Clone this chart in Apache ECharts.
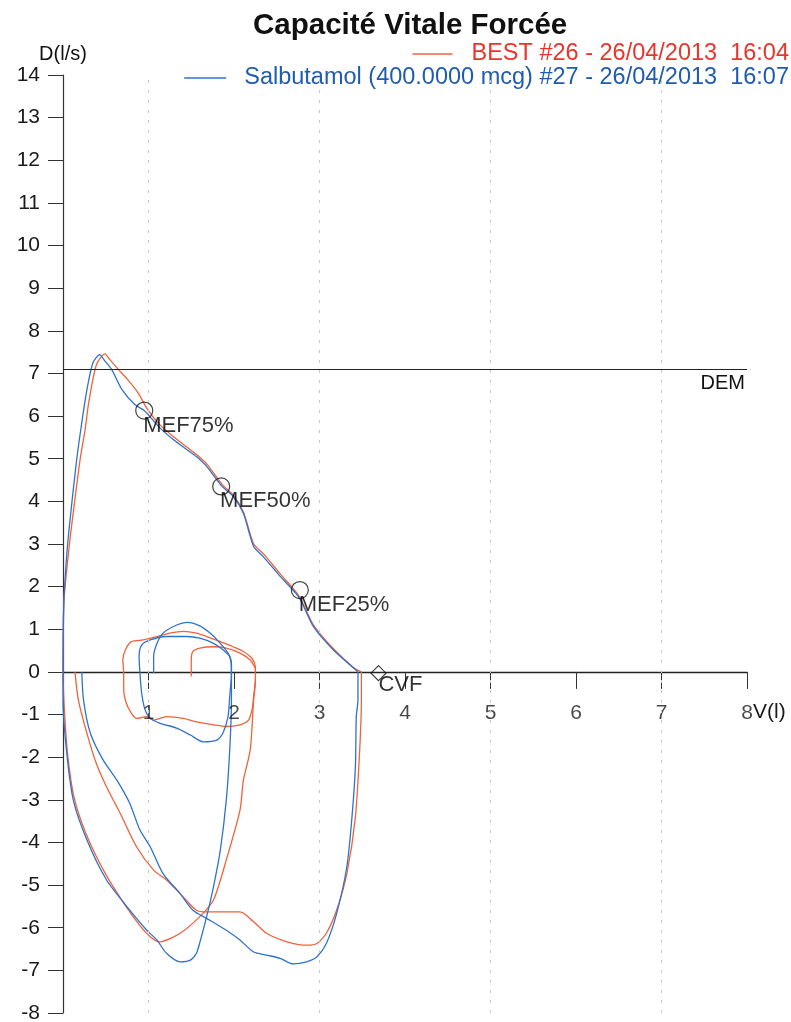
<!DOCTYPE html>
<html>
<head>
<meta charset="utf-8">
<script src="https://cdn.jsdelivr.net/npm/echarts@6/dist/echarts.min.js"></script>
<style>
html,body{margin:0;padding:0;background:#fff;}
#chart{width:791px;height:1022px;}
</style>
</head>
<body>
<div id="chart"></div>
<script>
// ---- labels ----
const titleText = 'Capacité Vitale Forcée';
const redName = 'BEST #26 - 26/04/2013  16:04';
const blueName = 'Salbutamol (400.0000 mcg) #27 - 26/04/2013  16:07';
const xName = 'V(l)';
const yName = 'D(l/s)';
const xTickValues = [1,2,3,4,5,6,7,8];

// ---- BLUE (Salbutamol) curve segments [volume, flow] ----
const blueTidalInner = [[1.06,-0.03],[1.06,0.36],[1.10,0.67],[1.17,0.91],[1.33,1.10],[1.45,1.16],[1.60,1.08],[1.72,0.91],[1.84,0.67],[1.93,0.44],[1.97,0.20],[1.97,-0.11]];
const blueTidalOuter = [[1.97,-0.11],[1.95,-0.58],[1.93,-1.05],[1.87,-1.44],[1.80,-1.60],[1.64,-1.64],[1.49,-1.48],[1.33,-1.32],[1.13,-1.20],[1.02,-1.09],[0.96,-0.89],[0.92,-0.50],[0.90,-0.03],[0.89,0.36],[0.92,0.63],[1.02,0.75],[1.21,0.83],[1.45,0.83],[1.60,0.79],[1.76,0.67],[1.87,0.52],[1.95,0.36],[1.97,0.10]];
const blueInspA = [[1.97,0.10],[1.97,-0.66],[1.95,-1.83],[1.91,-3.0],[1.84,-4.18],[1.76,-5.04],[1.68,-5.74],[1.60,-6.35],[1.56,-6.60],[1.49,-6.76],[1.37,-6.80],[1.21,-6.60],[1.10,-6.29],[0.98,-6.06],[0.75,-5.51],[0.51,-4.88],[0.28,-3.94],[0.12,-3.0],[0.04,-1.83],[0.0,-0.66],[0.0,0.0]];
const blueExp = [[0.0,0.0],[0.01,1.62],[0.05,2.9],[0.10,3.9],[0.16,4.98],[0.22,5.85],[0.28,6.62],[0.35,7.25],[0.43,7.44],[0.48,7.32],[0.57,7.09],[0.69,6.62],[0.84,6.27],[0.95,6.13],[1.13,5.73],[1.29,5.45],[1.45,5.21],[1.56,5.05],[1.68,4.82],[1.86,4.35],[1.99,4.12],[2.11,3.72],[2.23,2.94],[2.34,2.71],[2.54,2.24],[2.76,1.75],[2.93,1.06],[3.16,0.52],[3.40,0.09],[3.45,0.0]];
const blueInspB = [[3.45,0.0],[3.45,-0.66],[3.43,-1.05],[3.42,-2.22],[3.38,-3.40],[3.32,-4.57],[3.20,-5.67],[3.08,-6.37],[2.97,-6.68],[2.85,-6.80],[2.69,-6.85],[2.54,-6.72],[2.38,-6.64],[2.23,-6.57],[2.07,-6.29],[1.91,-6.06],[1.68,-5.78],[1.52,-5.59],[1.37,-5.20],[1.17,-4.73],[1.02,-4.10],[0.90,-3.71],[0.78,-3.08],[0.63,-2.54],[0.47,-2.07],[0.32,-1.44],[0.24,-0.66],[0.22,0.0]];

// ---- RED (BEST) curve segments [volume, flow] ----
const redTidalInner = [[1.50,-0.11],[1.50,0.28],[1.52,0.48],[1.60,0.56],[1.76,0.59],[1.91,0.56],[2.07,0.44],[2.19,0.28],[2.25,0.08]];
const redTidalOuter = [[2.25,0.08],[2.25,-0.11],[2.23,-0.58],[2.21,-0.89],[2.17,-1.13],[2.07,-1.24],[1.91,-1.28],[1.76,-1.24],[1.56,-1.17],[1.41,-1.09],[1.21,-1.05],[1.06,-1.13],[0.98,-1.05],[0.86,-1.09],[0.80,-0.97],[0.74,-0.73],[0.71,-0.42],[0.71,-0.03],[0.70,0.28],[0.73,0.52],[0.80,0.71],[0.94,0.75],[1.10,0.83],[1.25,0.91],[1.41,0.95],[1.56,0.91],[1.68,0.83],[1.84,0.71],[1.99,0.59],[2.11,0.48],[2.21,0.32],[2.25,0.12],[2.25,-0.30]];
const redInspA = [[2.25,-0.30],[2.23,-0.66],[2.19,-1.83],[2.11,-2.54],[2.07,-3.24],[1.91,-4.41],[1.76,-5.35],[1.60,-5.74],[1.37,-6.13],[1.13,-6.33],[1.02,-6.21],[0.90,-5.95],[0.72,-5.45],[0.50,-4.75],[0.28,-3.85],[0.13,-2.95],[0.05,-1.85],[0.01,-0.66],[0.0,0.0]];
const redExp = [[0.0,0.0],[0.01,1.62],[0.07,2.9],[0.13,3.9],[0.20,4.98],[0.26,5.7],[0.30,6.31],[0.39,7.2],[0.49,7.46],[0.55,7.32],[0.65,7.09],[0.76,6.85],[0.88,6.54],[0.99,6.15],[1.13,5.80],[1.29,5.52],[1.45,5.27],[1.56,5.10],[1.68,4.88],[1.86,4.40],[1.99,4.15],[2.11,3.75],[2.23,3.0],[2.34,2.78],[2.54,2.30],[2.76,1.78],[2.93,1.10],[3.16,0.55],[3.40,0.10],[3.49,0.0]];
const redInspB = [[3.49,0.0],[3.49,-0.66],[3.47,-1.83],[3.42,-3.40],[3.32,-4.73],[3.20,-5.59],[3.08,-6.13],[2.97,-6.37],[2.85,-6.41],[2.62,-6.33],[2.38,-6.13],[2.23,-5.86],[2.07,-5.63],[1.68,-5.63],[1.56,-5.59],[1.37,-5.20],[1.21,-4.88],[1.06,-4.65],[0.86,-4.10],[0.67,-3.32],[0.51,-2.70],[0.39,-2.15],[0.28,-1.44],[0.18,-0.66],[0.14,0.0]];

// ---- markers ----
const mefNames = ['MEF75%','MEF50%','MEF25%'];
const mefValues = [[0.95,6.13],[1.85,4.35],[2.77,1.92]];
const cvfName = 'CVF';
const cvfValue = [3.69,-0.03];
const demName = 'DEM';
const demValue = 7.1;
const gridXs = [1,3,5,7];

const FONT = '"Liberation Sans", Arial, sans-serif';
const RED_LINE = '#f0623a', BLUE_LINE = '#2f72cc';
const RED_TEXT = '#e8352b', BLUE_TEXT = '#1f5cb0';

function seg(name, color, data){
  return {type:'line', name:name, data:data, showSymbol:false, symbol:'none', smooth:0.25,
    lineStyle:{color:color, width:1.3}, itemStyle:{color:color}, z:3, silent:true, animation:false};
}

const series = [];
// background guides
series.push({type:'line', data:[], silent:true, z:1, animation:false,
  markLine:{silent:true, symbol:'none', animation:false,
    label:{show:false},
    lineStyle:{color:'#c8c8c8', type:[3,7], width:1},
    data: gridXs.map(v=>({xAxis:v}))}});
series.push({type:'line', data:[], silent:true, z:2, animation:false,
  markLine:{silent:true, symbol:'none', animation:false,
    lineStyle:{color:'#222', type:'solid', width:1},
    label:{show:true, position:'insideEndBottom', formatter:demName, color:'#111', fontSize:20, fontFamily:FONT, distance:[2,4]},
    data:[{yAxis:demValue}]}});

[redTidalInner, redTidalOuter, redInspA, redExp, redInspB].forEach(d=>series.push(seg(redName, RED_LINE, d)));
[blueTidalInner, blueTidalOuter, blueInspA, blueExp, blueInspB].forEach(d=>series.push(seg(blueName, BLUE_LINE, d)));

// x tick labels, placed on the zero line through the axis scale
series.push({type:'scatter', z:4, silent:true, animation:false,
  symbol:'circle', symbolSize:1, itemStyle:{color:'rgba(0,0,0,0)'},
  label:{show:true, position:'bottom', distance:30, formatter:p=>String(p.value[0]), color:'#1a1a1a', fontSize:21, fontFamily:FONT},
  data: xTickValues.map(v=>[v,0])});

series.push({type:'scatter', z:5, silent:true, animation:false,
  symbol:'circle', symbolSize:17,
  itemStyle:{color:'rgba(0,0,0,0)', borderColor:'#111', borderWidth:1.2},
  label:{show:true, position:[8,13], formatter:p=>p.name, color:'#000', fontSize:22, fontFamily:FONT},
  data: mefNames.map((n,i)=>({name:n, value:mefValues[i]}))});
series.push({type:'scatter', z:5, silent:true, animation:false,
  symbol:'diamond', symbolSize:15,
  itemStyle:{color:'rgba(0,0,0,0)', borderColor:'#111', borderWidth:1.2},
  label:{show:true, position:[8,9], formatter:p=>p.name, color:'#000', fontSize:22, fontFamily:FONT},
  data:[{name:cvfName, value:cvfValue}]});

const chart = echarts.init(document.getElementById('chart'), null, {renderer:'canvas'});
chart.setOption({
  animation:false,
  backgroundColor:'#fff',
  textStyle:{fontFamily:FONT},
  title:{text:titleText, left:248, top:6, textStyle:{fontSize:29.5, fontWeight:'bold', color:'#111', fontFamily:FONT}},
  legend:[
    {data:[{name:redName, textStyle:{color:RED_TEXT}}], right:2, top:42, icon:'rect', itemWidth:40, itemHeight:1.5, itemGap:0,
     textStyle:{fontSize:23.5, fontFamily:FONT, padding:[0,0,0,14]}, selectedMode:false, padding:0},
    {data:[{name:blueName, textStyle:{color:BLUE_TEXT}}], right:2, top:66, icon:'rect', itemWidth:42, itemHeight:1.5, itemGap:0,
     textStyle:{fontSize:23.5, fontFamily:FONT, padding:[0,0,0,13]}, selectedMode:false, padding:0}
  ],
  grid:{left:63, right:44, top:75, bottom:9, containLabel:false, outerBoundsMode:'none'},
  xAxis:{type:'value', min:0, max:8, interval:1,
    axisLine:{onZero:true, lineStyle:{color:'#222', width:1.3}},
    axisTick:{length:17, lineStyle:{color:'#333', width:1}},
    axisLabel:{show:false},
    splitLine:{show:false},
    name:xName, nameLocation:'end', nameGap:6,
    nameTextStyle:{fontSize:21, color:'#1a1a1a', fontFamily:FONT, verticalAlign:'top', align:'left', padding:[30,0,0,0]}},
  yAxis:{type:'value', min:-8, max:14, interval:1,
    axisLine:{show:true, onZero:false, lineStyle:{color:'#333', width:1.2}},
    axisTick:{show:true, length:15, lineStyle:{color:'#333', width:1}},
    axisLabel:{margin:23, fontSize:21, color:'#1a1a1a', fontFamily:FONT},
    splitLine:{show:false},
    name:yName, nameLocation:'end', nameGap:11,
    nameTextStyle:{fontSize:20, color:'#111', fontFamily:FONT, align:'center'}},
  series:series
});
</script>
</body>
</html>
